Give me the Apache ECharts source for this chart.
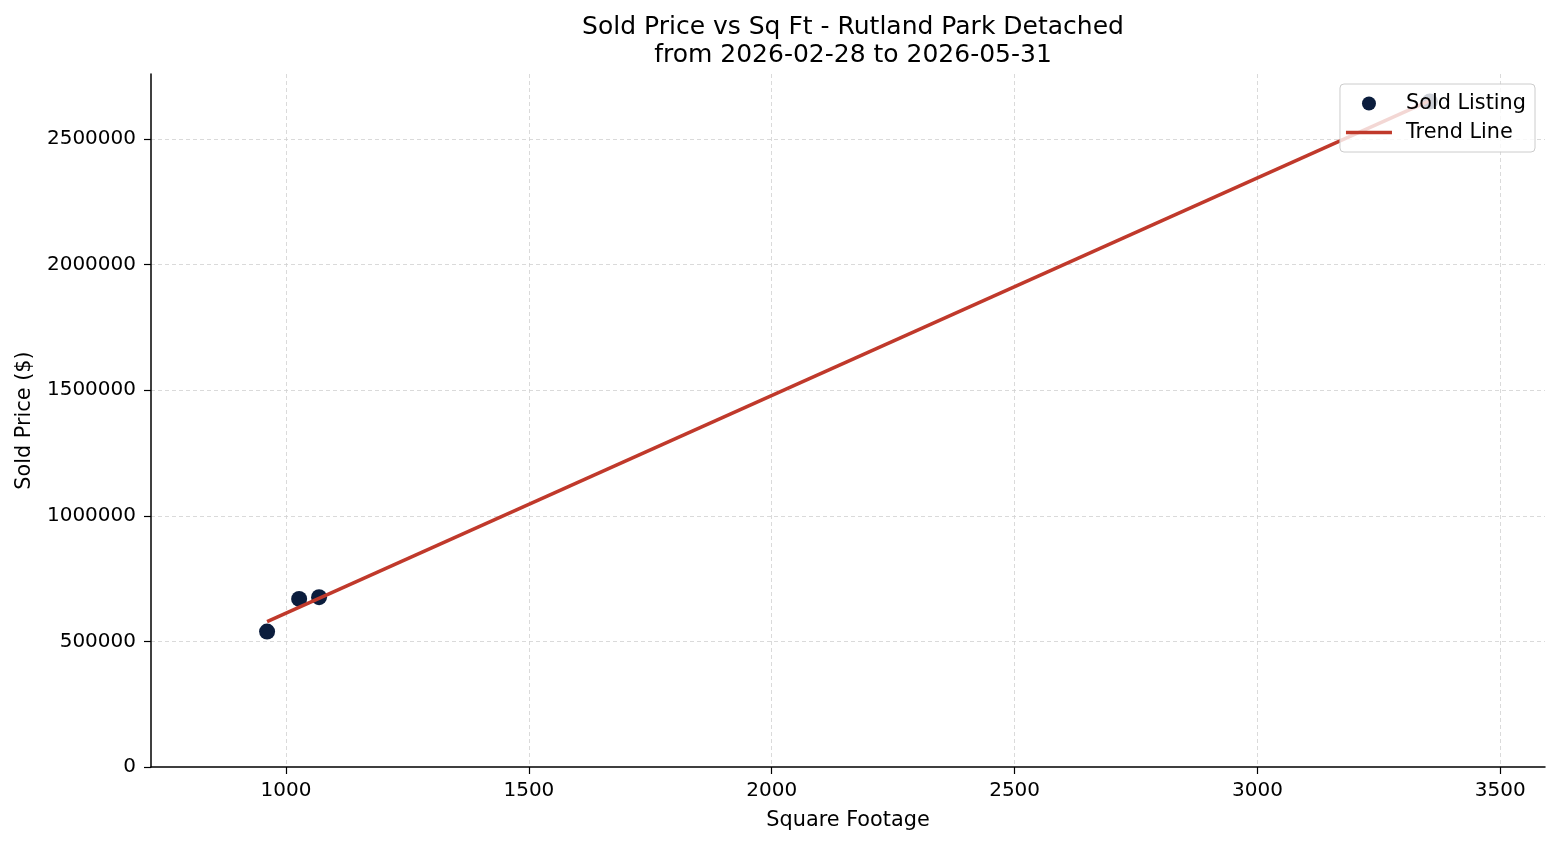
<!DOCTYPE html>
<html>
<head>
<meta charset="utf-8">
<script src="https://cdn.jsdelivr.net/npm/echarts@6/dist/echarts.min.js"></script>
<style>
html,body{margin:0;padding:0;background:#fff;}
#chart{width:1560px;height:845px;}
</style>
</head>
<body>
<div id="chart"></div>
<script>
// Data
const sqft = [961, 1027, 1068, 3355];
const soldPrice = [539000, 669000, 676000, 2650000];
const trendSqft = [961, 3355];
const trendPrice = [579000, 2653000];
const seriesNames = ['Sold Listing', 'Trend Line'];
const titleLines = ['Sold Price vs Sq Ft - Rutland Park Detached', 'from 2026-02-28 to 2026-05-31'];

const FONT = 'DejaVu Sans';
const chart = echarts.init(document.getElementById('chart'), null, {renderer: 'canvas'});

const scatterData = sqft.map((x, i) => [x, soldPrice[i]]);
const trendData = trendSqft.map((x, i) => [x, trendPrice[i]]);
const plain = v => String(v);

const option = {
  backgroundColor: '#ffffff',
  animation: false,
  title: {
    text: titleLines.join('\n'),
    left: 848,
    textAlign: 'center',
    top: 8,
    textStyle: {fontFamily: FONT, fontSize: 25, fontWeight: 'normal', color: '#000', lineHeight: 28.5}
  },
  grid: {left: 151, right: 15, top: 74, bottom: 78, containLabel: false},
  legend: {
    orient: 'vertical',
    right: 25,
    top: 84,
    padding: [9, 9, 9, 6],
    itemGap: 8,
    itemWidth: 46,
    itemHeight: 14,
    backgroundColor: 'rgba(255,255,255,0.8)',
    borderColor: '#cccccc',
    borderWidth: 1,
    borderRadius: 4,
    textStyle: {fontFamily: FONT, fontSize: 20.8, color: '#000', padding: [0, 0, 0, 9]},
    data: [
      {name: seriesNames[0], icon: 'circle'},
      {name: seriesNames[1], icon: 'path://M0,0 L46,0 L46,3.5 L0,3.5 Z'}
    ]
  },
  xAxis: {
    type: 'value',
    min: 722,
    max: 3592,
    name: 'Square Footage',
    nameLocation: 'middle',
    nameGap: 43,
    nameTextStyle: {fontFamily: FONT, fontSize: 20.8, color: '#000'},
    axisLine: {show: true, onZero: false, lineStyle: {color: '#000', width: 1.5}},
    axisTick: {show: true, length: 7, lineStyle: {color: '#000', width: 1.2}},
    axisLabel: {fontFamily: FONT, fontSize: 20, color: '#000', margin: 14, showMinLabel: false, showMaxLabel: false, formatter: plain},
    splitLine: {show: true, showMinLine: false, showMaxLine: false, lineStyle: {color: '#d0d0d0', width: 0.8, type: [4, 3]}}
  },
  yAxis: {
    type: 'value',
    min: 0,
    max: 2759000,
    name: 'Sold Price ($)',
    nameLocation: 'middle',
    nameGap: 116,
    nameTextStyle: {fontFamily: FONT, fontSize: 20.8, color: '#000'},
    axisLine: {show: true, onZero: false, lineStyle: {color: '#000', width: 1.5}},
    axisTick: {show: true, length: 7, lineStyle: {color: '#000', width: 1.2}},
    axisLabel: {fontFamily: FONT, fontSize: 20, color: '#000', margin: 15, showMaxLabel: false, formatter: plain},
    splitLine: {show: true, showMinLine: false, showMaxLine: false, lineStyle: {color: '#d0d0d0', width: 0.8, type: [4, 3]}}
  },
  series: [
    {
      name: seriesNames[0],
      type: 'scatter',
      data: scatterData,
      symbol: 'circle',
      symbolSize: 16,
      itemStyle: {color: '#0b1d3d', opacity: 1},
      z: 2
    },
    {
      name: seriesNames[1],
      type: 'line',
      data: trendData,
      symbol: 'none',
      showSymbol: false,
      lineStyle: {color: '#c0392b', width: 3.5},
      itemStyle: {color: '#c0392b'},
      z: 3
    }
  ]
};
chart.setOption(option);
</script>
</body>
</html>
